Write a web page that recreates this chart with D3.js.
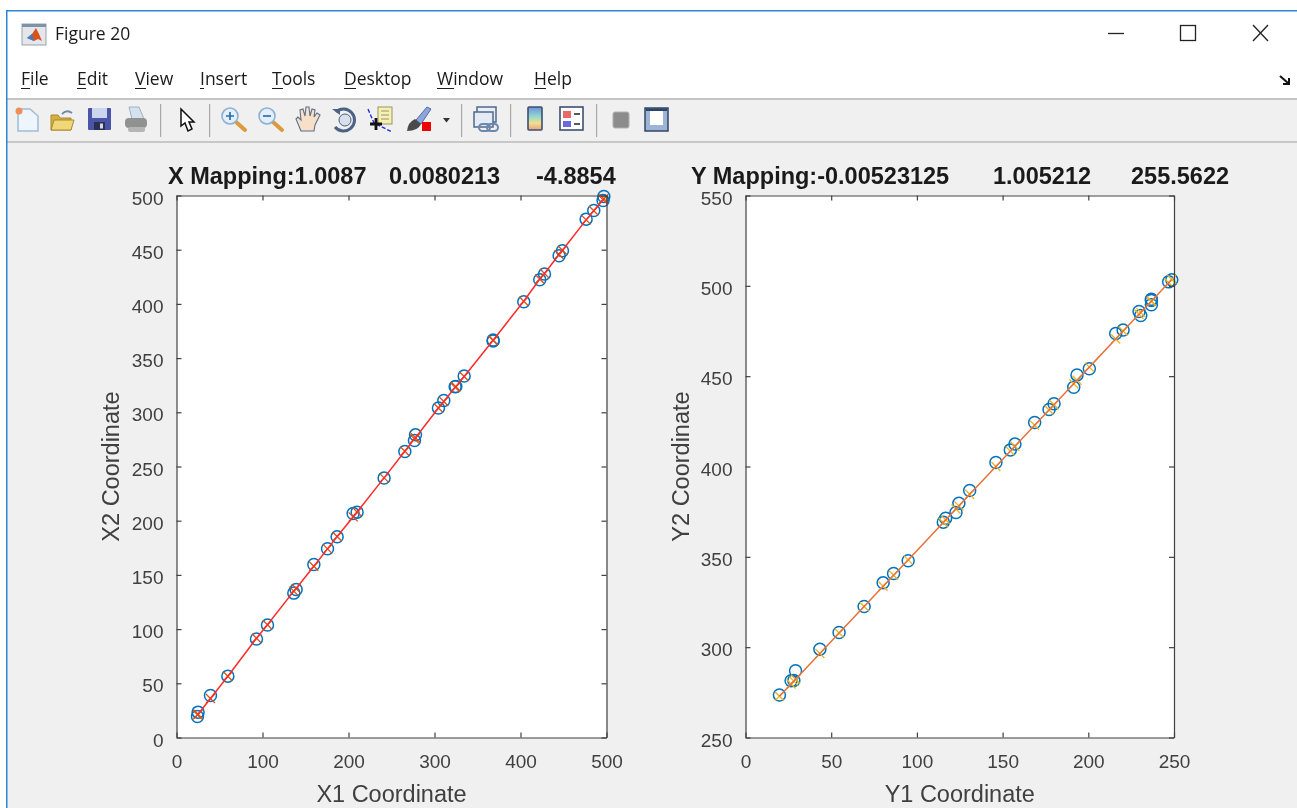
<!DOCTYPE html>
<html>
<head>
<meta charset="utf-8">
<title>Figure 20</title>
<script src="https://cdn.jsdelivr.net/npm/d3@7"></script>
<style>
  body { margin: 0; background: white; }
  svg { display: block; filter: blur(0.45px); }
  .chrome { font-family: "Open Sans", "Noto Sans", sans-serif; fill: #1a1a1a; }
  .tick text { font-family: "Liberation Sans", Arial, sans-serif; font-size: 19px; fill: #404040; }
  .axis-label { font-family: "Liberation Sans", Arial, sans-serif; font-size: 23.5px; fill: #404040; text-anchor: middle; }
  .plot-title { font-family: "Liberation Sans", Arial, sans-serif; font-size: 23.5px; font-weight: bold; fill: #1a1a1a; }
</style>
</head>
<body>
<div id="figure"></div>
<script>
// values
var x1Left = [496.9, 496, 485.2, 476.3, 448.8, 444.9, 427.9, 422.4, 403.8, 368.2, 368.2, 334.5, 324.8, 324, 310.8, 304.6, 277.9, 276.7, 265.5, 241.4, 210, 205.4, 186.8, 175.6, 159.7, 139.1, 136.4, 105.8, 93, 59.7, 39.5, 25.1, 24.4];
var x2Left = [499, 495.4, 486.2, 478.2, 449, 444.4, 427.5, 422.2, 401.9, 366.6, 365.7, 333.4, 323.8, 323.5, 310.9, 303.9, 279.2, 274, 263.8, 239.3, 207.9, 206.7, 185.1, 174.1, 159.6, 136.5, 133.2, 103.7, 90.8, 56.6, 38.7, 23.4, 19.4];
var x2LeftMapped = [497, 496, 486, 477.5, 449.5, 445.5, 428, 423, 402.5, 366.5, 366.5, 333, 323.5, 323, 310, 304, 276.5, 275.5, 264, 239.5, 208, 203.5, 185.5, 174, 158, 137.5, 135, 104, 91.5, 56.5, 36, 21.5, 21];

var y1Right = [248.7, 246.9, 236.8, 236.8, 236.8, 229.6, 230.6, 220.3, 216, 200.6, 193.4, 191.5, 180, 177.1, 168.7, 157.2, 154.5, 146.1, 130.8, 124.5, 122.8, 116.8, 115.4, 94.9, 86.4, 80.3, 69.2, 54.6, 43.4, 29.2, 28.2, 26.6, 19.8];
var y2Right = [503.3, 502.2, 492.6, 491.9, 489.5, 485.8, 483.6, 475.5, 473.6, 454.1, 450.7, 443.9, 434.7, 431.5, 424.4, 412.4, 409.2, 402.2, 386.7, 379.7, 374.5, 371.4, 369.2, 347.8, 340.8, 335.6, 322.5, 308.1, 298.9, 286.9, 281.5, 281.4, 273.5];
var y2RightMapped = [503.5, 501.7, 491.5, 491.5, 491.5, 484.3, 485.3, 475, 470.6, 455, 447.7, 445.8, 434.2, 431.3, 422.8, 411.2, 408.5, 400, 384.6, 378.2, 376.5, 370.5, 369, 348.3, 339.8, 333.7, 322.5, 307.8, 296.5, 282.2, 281.2, 279.6, 272.8];

var xTicksLeft = [0, 100, 200, 300, 400, 500];
var yTicksLeft = [0, 50, 100, 150, 200, 250, 300, 350, 400, 450, 500];
var xTicksRight = [0, 50, 100, 150, 200, 250];
var yTicksRight = [250, 300, 350, 400, 450, 500, 550];

var titleLeft = ["X Mapping:1.0087", "0.0080213", "-4.8854"];
var titleRight = ["Y Mapping:-0.00523125", "1.005212", "255.5622"];
var menuItems = ["File", "Edit", "View", "Insert", "Tools", "Desktop", "Window", "Help"];

var svgWidth = 1297;
var svgHeight = 808;

var svg = d3.select("#figure")
  .append("svg")
  .attr("width", svgWidth)
  .attr("height", svgHeight);

// window frame and figure background
svg.append("rect").attr("x", 7).attr("y", 10).attr("width", svgWidth - 7).attr("height", svgHeight - 10).attr("fill", "#f0f0f0");
svg.append("rect").attr("x", 7).attr("y", 10).attr("width", svgWidth - 7).attr("height", 88).attr("fill", "white");
svg.append("rect").attr("x", 7).attr("y", 98).attr("width", svgWidth - 7).attr("height", 2).attr("fill", "#c4c4c4");
svg.append("rect").attr("x", 7).attr("y", 141).attr("width", svgWidth - 7).attr("height", 2).attr("fill", "#c8c8c8");
svg.append("rect").attr("x", 7).attr("y", 10).attr("width", svgWidth - 7).attr("height", 1.5).attr("fill", "#2b86d6");
svg.append("rect").attr("x", 6).attr("y", 10).attr("width", 1.5).attr("height", svgHeight - 10).attr("fill", "#2b86d6");

// title bar
var logo = svg.append("g");
logo.append("rect").attr("x", 22).attr("y", 24).attr("width", 24).attr("height", 21).attr("fill", "#e4e6ea").attr("stroke", "#9aa3ad");
logo.append("rect").attr("x", 22).attr("y", 24).attr("width", 24).attr("height", 3).attr("fill", "#7f93a8");
logo.append("path").attr("d", "M27 38 L32 34 L36 28 L39 34 L42 41 L38 39 L34 41 Z").attr("fill", "#d9531e");
logo.append("path").attr("d", "M27 38 L32 34 L34 41 Z").attr("fill", "#3f7fbf");
svg.append("text").attr("class", "chrome").attr("x", 55).attr("y", 40).attr("font-size", 17.5).text("Figure 20");

svg.append("path").attr("d", "M1108 33.5 H1124").attr("stroke", "#222").attr("stroke-width", 1.3);
svg.append("rect").attr("x", 1180.5).attr("y", 25.5).attr("width", 15).attr("height", 15).attr("fill", "none").attr("stroke", "#222").attr("stroke-width", 1.3);
svg.append("path").attr("d", "M1253 25 L1268 41 M1268 25 L1253 41").attr("stroke", "#222").attr("stroke-width", 1.3);
svg.append("path").attr("d", "M1280 76 L1288 83 M1289 78 V84 H1283").attr("fill", "none").attr("stroke", "#111").attr("stroke-width", 2);

// menu bar
var menuX = d3.scaleOrdinal().domain(menuItems).range([21, 77, 135, 200, 272, 344, 437, 534]);
var menuWidth = d3.scaleOrdinal().domain(menuItems).range([9, 9, 11, 4, 11, 12, 17, 12]);
var menu = svg.append("g").selectAll("g").data(menuItems).enter().append("g")
  .attr("transform", d => `translate(${menuX(d)}, 0)`);
menu.append("text").attr("class", "chrome").attr("y", 85).attr("font-size", 17.5).text(d => d);
menu.append("rect").attr("y", 88).attr("height", 1).attr("width", d => menuWidth(d)).attr("fill", "#1a1a1a");

// toolbar separators
var toolbarSeps = [160, 209, 461, 510, 596];
svg.append("g").selectAll("rect").data(toolbarSeps).enter().append("rect")
  .attr("x", d => d).attr("y", 104).attr("width", 1.2).attr("height", 33).attr("fill", "#a8a8a8");

// toolbar icons
var tools = svg.append("g");
function icon(x, y) { return tools.append("g").attr("transform", `translate(${x}, ${y})`); }

var ico = icon(15, 107); // new file
ico.append("path").attr("d", "M3 2 H15 L23 9 V24 H3 Z").attr("fill", "#eef5fc").attr("stroke", "#9dbbd8").attr("stroke-width", 1.5);
ico.append("circle").attr("cx", 4).attr("cy", 4).attr("r", 3.5).attr("fill", "#ef8f55");

ico = icon(50, 109); // open
ico.append("path").attr("d", "M1 6 H8 L10 9 H21 V21 H1 Z").attr("fill", "#d8ae3e").attr("stroke", "#a88a2e");
ico.append("path").attr("d", "M1 21 L4 11 H24 L21 21 Z").attr("fill", "#f2d778").attr("stroke", "#a88a2e");
ico.append("path").attr("d", "M12 5 Q17 0 22 4").attr("fill", "none").attr("stroke", "#6d8aa8").attr("stroke-width", 1.8);

ico = icon(88, 108); // save
ico.append("rect").attr("width", 23).attr("height", 22).attr("rx", 1).attr("fill", "#4a55a8");
ico.append("rect").attr("x", 4).attr("width", 15).attr("height", 10).attr("fill", "#cdd4ee");
ico.append("rect").attr("x", 6).attr("y", 14).attr("width", 11).attr("height", 8).attr("fill", "#2a2f55");
ico.append("rect").attr("x", 12).attr("y", 15.5).attr("width", 3).attr("height", 5).attr("fill", "#d8d8d8");

ico = icon(124, 106); // print
ico.append("path").attr("d", "M5 1 H15 L20 13 H8 Z").attr("fill", "#d5e2ee").attr("stroke", "#a0b0c0");
ico.append("rect").attr("x", 1).attr("y", 12).attr("width", 22).attr("height", 10).attr("rx", 4).attr("fill", "#8f9290");
ico.append("rect").attr("x", 4).attr("y", 21).attr("width", 17).attr("height", 5).attr("rx", 2).attr("fill", "#b5b5b5");

ico = icon(180, 108); // arrow
ico.append("path").attr("d", "M1 1 L1 18 L5 15 L8 23 L12 21 L9 14 L14 14 Z").attr("fill", "white").attr("stroke", "#111").attr("stroke-width", 1.5);

function magnifier(x, sign) {
  var g = icon(x, 107);
  g.append("path").attr("d", "M15 15 L24 23").attr("stroke", "#dc9a3a").attr("stroke-width", 4).attr("stroke-linecap", "round");
  g.append("circle").attr("cx", 9).attr("cy", 9).attr("r", 8).attr("fill", "#e2eef9").attr("stroke", "#8fb0d0").attr("stroke-width", 1.6);
  g.append("path").attr("d", sign).attr("stroke", "#2f6ea8").attr("stroke-width", 1.7);
}
magnifier(221, "M5 9 H13 M9 5 V13");
magnifier(258, "M5 9 H13");

ico = icon(295, 106); // hand
ico.append("path").attr("d", "M6 25 L1 13 L3 11 L6 14 L5 4 L8 3 L10 10 L11 1 L14 1 L15 10 L17 3 L20 4 L19 11 L22 7 L25 9 L20 19 L19 25 Z").attr("fill", "#f8dfc8").attr("stroke", "#5c6f88").attr("stroke-width", 1.1);

ico = icon(331, 107); // rotate
ico.append("path").attr("d", "M5 5 A11 11 0 1 1 4 20").attr("fill", "none").attr("stroke", "#4a6284").attr("stroke-width", 3);
ico.append("path").attr("d", "M1 2 H9 V8 Z").attr("fill", "#4a6284");
ico.append("circle").attr("cx", 14).attr("cy", 13).attr("r", 6).attr("fill", "#d8e0ea").attr("stroke", "#4a6284");

ico = icon(367, 106); // data cursor
ico.append("rect").attr("x", 11).attr("y", 1).attr("width", 14).attr("height", 17).attr("fill", "#f5efb8").attr("stroke", "#9a9558");
ico.append("path").attr("d", "M14 5 H22 M14 9 H22 M14 13 H22").attr("stroke", "#9a9558");
ico.append("path").attr("d", "M1 3 L7 17 L25 26").attr("fill", "none").attr("stroke", "#2030d8").attr("stroke-dasharray", "4 2").attr("stroke-width", 1.4);
ico.append("path").attr("d", "M3 18 H15 M9 12 V24").attr("stroke", "#111").attr("stroke-width", 2.8);

ico = icon(406, 106); // brush
ico.append("path").attr("d", "M10 14 L21 1 L25 3 L15 18 Z").attr("fill", "#8fa6dc").attr("stroke", "#5668a8");
ico.append("path").attr("d", "M1 25 Q2 16 9 13 L15 18 Q12 25 1 25 Z").attr("fill", "#4a4a4a");
ico.append("rect").attr("x", 16).attr("y", 16).attr("width", 9).attr("height", 9).attr("fill", "#ee0000");

svg.append("path").attr("d", "M443 118 H450 L446.5 122.5 Z").attr("fill", "#333");

ico = icon(473, 106); // link plot
ico.append("rect").attr("x", 4).attr("y", 1).attr("width", 19).attr("height", 15).attr("fill", "#e8eef6").attr("stroke", "#50688a").attr("stroke-width", 1.5);
ico.append("rect").attr("x", 1).attr("y", 6).attr("width", 19).attr("height", 15).attr("fill", "#e4ebf4").attr("stroke", "#50688a").attr("stroke-width", 1.5);
ico.append("rect").attr("x", 6).attr("y", 18).attr("width", 11).attr("height", 7).attr("rx", 3.5).attr("fill", "none").attr("stroke", "#6d88ac").attr("stroke-width", 2);
ico.append("rect").attr("x", 14).attr("y", 18).attr("width", 11).attr("height", 7).attr("rx", 3.5).attr("fill", "none").attr("stroke", "#6d88ac").attr("stroke-width", 2);

// colorbar icon
var cbGrad = svg.append("defs").append("linearGradient").attr("id", "cb").attr("x1", 0).attr("y1", 0).attr("x2", 0).attr("y2", 1);
cbGrad.append("stop").attr("offset", "0").attr("stop-color", "#7090d8");
cbGrad.append("stop").attr("offset", "0.4").attr("stop-color", "#90d8d0");
cbGrad.append("stop").attr("offset", "0.7").attr("stop-color", "#f0e090");
cbGrad.append("stop").attr("offset", "1").attr("stop-color", "#f0a080");
ico = icon(527, 106);
ico.append("rect").attr("x", 1).attr("y", 1).attr("width", 14).attr("height", 23).attr("rx", 1).attr("fill", "url(#cb)").attr("stroke", "#3c5070").attr("stroke-width", 1.6);

ico = icon(559, 106); // legend
ico.append("rect").attr("x", 1).attr("y", 1).attr("width", 23).attr("height", 23).attr("fill", "white").attr("stroke", "#3c5070").attr("stroke-width", 1.6);
ico.append("rect").attr("x", 4).attr("y", 5).attr("width", 8).attr("height", 7).attr("fill", "#e86a6a");
ico.append("rect").attr("x", 4).attr("y", 15).attr("width", 8).attr("height", 6).attr("fill", "#6a6ae0");
ico.append("path").attr("d", "M15 8 H21 M15 18 H21").attr("stroke", "#222").attr("stroke-width", 1.5);

ico = icon(612, 111); // hide tools
ico.append("rect").attr("x", 1).attr("y", 1).attr("width", 16).attr("height", 16).attr("rx", 2).attr("fill", "#8c8c8c").attr("stroke", "#b0b0b0");

ico = icon(644, 107); // show tools
ico.append("rect").attr("x", 1).attr("y", 1).attr("width", 23).attr("height", 23).attr("fill", "#9db4d4").attr("stroke", "#2f4568").attr("stroke-width", 1.5);
ico.append("rect").attr("x", 6).attr("y", 4).attr("width", 13).attr("height", 14).attr("fill", "white");
ico.append("rect").attr("x", 2).attr("y", 1.5).attr("width", 21).attr("height", 2.5).attr("fill", "#2f4568");

// one panel of the figure
function drawPanel(opts) {
  var box = opts.box;
  var xScale = d3.scaleLinear().domain(opts.xDomain).range([box.left, box.right]);
  var yScale = d3.scaleLinear().domain(opts.yDomain).range([box.bottom, box.top]);

  svg.append("rect")
    .attr("x", box.left).attr("y", box.top)
    .attr("width", box.right - box.left).attr("height", box.bottom - box.top)
    .attr("fill", "white");

  var g = svg.append("g");

  // circles first, then crosses and the fit line on top
  g.selectAll("circle.pt").data(opts.xs).enter().append("circle")
    .attr("cx", d => xScale(d))
    .attr("cy", (d, i) => yScale(opts.ys[i]))
    .attr("r", 6)
    .attr("fill", "none")
    .attr("stroke", "#0072bd")
    .attr("stroke-width", 1.5);

  var crossSize = 4.5;
  g.selectAll("path.cross").data(opts.xs).enter().append("path")
    .attr("class", "cross")
    .attr("transform", (d, i) => `translate(${xScale(d)}, ${yScale(opts.mapped[i])})`)
    .attr("d", `M${-crossSize} ${-crossSize} L${crossSize} ${crossSize} M${-crossSize} ${crossSize} L${crossSize} ${-crossSize}`)
    .attr("stroke", opts.crossColor)
    .attr("stroke-width", 1.3);

  var order = d3.range(opts.xs.length).sort((a, b) => opts.xs[a] - opts.xs[b]);
  var line = d3.line().x(i => xScale(opts.xs[i])).y(i => yScale(opts.mapped[i]));
  g.append("path").attr("d", line(order)).attr("fill", "none").attr("stroke", opts.lineColor).attr("stroke-width", 1.5);

  // axes with inward ticks on all four sides
  function styleAxis(sel) {
    sel.selectAll("path, line").attr("stroke", "#404040").attr("stroke-width", 1.2);
  }
  svg.append("g").attr("transform", `translate(0, ${box.bottom})`)
    .call(d3.axisBottom(xScale).tickValues(opts.xTicks).tickSizeInner(-5).tickSizeOuter(0).tickPadding(17))
    .call(styleAxis);
  svg.append("g").attr("transform", `translate(0, ${box.top})`)
    .call(d3.axisTop(xScale).tickValues(opts.xTicks).tickSizeInner(-5).tickSizeOuter(0).tickFormat(""))
    .call(styleAxis);
  svg.append("g").attr("transform", `translate(${box.left}, 0)`)
    .call(d3.axisLeft(yScale).tickValues(opts.yTicks).tickSizeInner(-5).tickSizeOuter(0).tickPadding(13))
    .call(styleAxis)
    .selectAll("text").attr("dy", "0.45em");
  svg.append("g").attr("transform", `translate(${box.right}, 0)`)
    .call(d3.axisRight(yScale).tickValues(opts.yTicks).tickSizeInner(-5).tickSizeOuter(0).tickFormat(""))
    .call(styleAxis);

  svg.append("text").attr("class", "axis-label")
    .attr("x", (box.left + box.right) / 2).attr("y", 802)
    .text(opts.xLabel);
  svg.append("text").attr("class", "axis-label")
    .attr("transform", `translate(${opts.yLabelX}, ${(box.top + box.bottom) / 2}) rotate(-90)`)
    .text(opts.yLabel);

  var title = svg.append("text").attr("class", "plot-title").attr("y", 184);
  title.selectAll("tspan").data(opts.title).enter().append("tspan")
    .attr("x", (d, i) => opts.titleX[i])
    .text(d => d);
}

drawPanel({
  box: { left: 176.5, right: 606.5, top: 195.5, bottom: 737.5 },
  xDomain: [0, 500], yDomain: [0, 500],
  xs: x1Left, ys: x2Left, mapped: x2LeftMapped,
  xTicks: xTicksLeft, yTicks: yTicksLeft,
  crossColor: "#d95319", lineColor: "#ff2a2a",
  xLabel: "X1 Coordinate", yLabel: "X2 Coordinate", yLabelX: 119,
  title: titleLeft, titleX: [168, 389, 536]
});

drawPanel({
  box: { left: 745.5, right: 1174, top: 195.5, bottom: 737.5 },
  xDomain: [0, 250], yDomain: [250, 550],
  xs: y1Right, ys: y2Right, mapped: y2RightMapped,
  xTicks: xTicksRight, yTicks: yTicksRight,
  crossColor: "#edb120", lineColor: "#e8703a",
  xLabel: "Y1 Coordinate", yLabel: "Y2 Coordinate", yLabelX: 689,
  title: titleRight, titleX: [691, 993, 1131]
});
</script>
</body>
</html>
